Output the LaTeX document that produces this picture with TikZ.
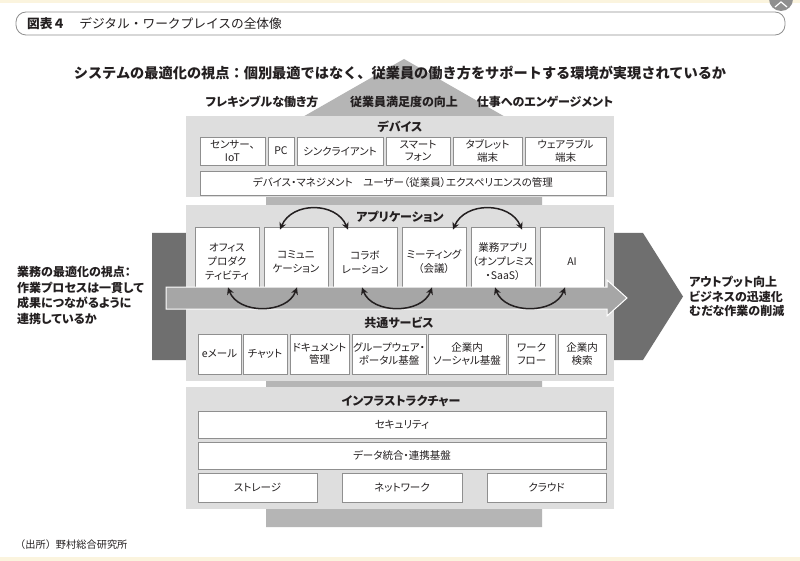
\documentclass[tikz,border=0pt]{standalone}
\usepackage{fontspec}
\setmainfont{Noto Sans CJK JP}[RawFeature=+palt]
\newfontfamily\fulljp{Noto Sans CJK JP}
\usetikzlibrary{arrows.meta}
\definecolor{ink}{HTML}{231F20}
\definecolor{panelgray}{HTML}{DEDEDE}
\definecolor{shaftgray}{HTML}{B5B5B5}
\definecolor{darkarrow}{HTML}{6F6F6F}
\definecolor{flowgray}{HTML}{A6A6A6}
\definecolor{rimgray}{HTML}{8F8F8F}
\definecolor{cream}{HTML}{FBF4DE}
\tikzset{
  cell/.style={draw=rimgray, fill=white, line width=0.9pt, inner sep=0pt,
    align=center, text=ink, font=\fontsize{10.5}{12.5}\selectfont},
  layer/.style={text=ink, font=\fontsize{12}{14}\selectfont\bfseries},
  lead/.style={text=ink, align=left, anchor=west, inner sep=0pt,
    font=\fontsize{12}{15.5}\selectfont\bfseries},
  link/.style={{Stealth[length=7pt,width=7pt]}-{Stealth[length=7pt,width=7pt]},
    line width=1.5pt, draw=ink}
}

\begin{document}
\begin{tikzpicture}[x=1pt,y=-1pt]
\useasboundingbox (0,0) rectangle (800,561);
\fill[white] (0,0) rectangle (800,561);
\fill[cream] (0,0) rectangle (800,3);
\fill[cream] (0,557) rectangle (800,561);
\fill[rimgray] (781,-1) circle (12);
\draw[white, line width=1.2pt] (775,7) -- (781,2) -- (787,7);

% caption
\draw[rimgray, line width=0.8pt, rounded corners=10pt] (16,12) rectangle (785,35);
\node[anchor=west, inner sep=0pt, text=ink, font=\fulljp\fontsize{12.7}{15}\selectfont] (caption) at (27,24)
  {{\bfseries 図表４}\hspace{14pt}デジタル・ワークプレイスの全体像};

% big arrows
\fill[shaftgray] (266,138) -- (404,59) -- (542,138) -- (542,527) -- (266,527) -- cycle;
\fill[darkarrow] (152,233) -- (643,233) -- (683,296.5) -- (643,360) -- (152,360) -- cycle;

\node[text=ink, font=\fulljp\fontsize{14.2}{17}\selectfont\bfseries] (heading) at (400,73)
  {システムの最適化の視点：個別最適ではなく、従業員の働き方をサポートする環境が実現されているか};
\node[layer] (flex) at (262,102) {フレキシブルな働き方};
\node[layer] (satis) at (404,102) {従業員満足度の向上};
\node[layer] (engage) at (545,102) {仕事へのエンゲージメント};

% panels
\fill[panelgray] (186,116) rectangle (614,197);
\fill[panelgray] (186,205) rectangle (614,381);
\fill[panelgray] (186,387) rectangle (614,509);

% devices
\node[layer] (devlabel) at (400,127) {デバイス};
\node[cell, minimum width=65, minimum height=28] (sensor) at (232.5,151) {センサー、\\IoT};
\node[cell, minimum width=26, minimum height=28] (pc) at (281,151) {PC};
\node[cell, minimum width=86, minimum height=28] (thin) at (340,151) {シンクライアント};
\node[cell, minimum width=64, minimum height=28] (phone) at (418,151) {スマート\\フォン};
\node[cell, minimum width=69, minimum height=28] (tablet) at (487.5,151) {タブレット\\端末};
\node[cell, minimum width=81, minimum height=28] (wear) at (565.5,151) {ウェアラブル\\端末};
\node[cell, minimum width=406, minimum height=24] (devmgmt) at (403,183)
  {デバイス・マネジメント　ユーザー（従業員）エクスペリエンスの管理};

% applications
\node[layer] (applabel) at (400,217) {アプリケーション};
\node[cell, minimum width=64, minimum height=70, font=\fontsize{10.5}{14}\selectfont] (office) at (227,262) {オフィス\\プロダク\\ティビティ};
\node[cell, minimum width=64, minimum height=70, font=\fontsize{10.5}{14}\selectfont] (comm) at (296,262) {コミュニ\\ケーション};
\node[cell, minimum width=64, minimum height=70, font=\fontsize{10.5}{14}\selectfont] (collab) at (365,262) {コラボ\\レーション};
\node[cell, minimum width=64, minimum height=70, font=\fontsize{10.5}{14}\selectfont] (meet) at (434,262) {ミーティング\\（会議）};
\node[cell, minimum width=64, minimum height=70, font=\fontsize{10.5}{14}\selectfont] (bizapp) at (503,262) {業務アプリ\\（オンプレミス\\・SaaS）};
\node[cell, minimum width=64, minimum height=70, font=\fontsize{10.5}{14}\selectfont] (ai) at (572,262) {AI};

% flow arrow
\fill[flowgray, draw=white, line width=1pt] (166,287) -- (607,287) -- (607,280) -- (627,298)
  -- (607,316) -- (607,309) -- (166,309) -- cycle;

\draw[link] ([xshift=-16,yshift=-3]comm.north) .. controls +(12,-28) and +(-12,-28) .. ([xshift=-17,yshift=-3]collab.north);
\draw[link] ([xshift=19,yshift=-3]meet.north) .. controls +(12,-28) and +(-12,-28) .. ([xshift=19,yshift=-3]bizapp.north);
\draw[link] ([xshift=1,yshift=10]office.south) .. controls +(10,27) and +(-10,27) .. ([xshift=1,yshift=10]comm.south);
\draw[link] ([xshift=-3,yshift=10]collab.south) .. controls +(10,27) and +(-10,27) .. ([xshift=-2,yshift=10]meet.south);
\draw[link] ([xshift=-8,yshift=10]bizapp.south) .. controls +(10,27) and +(-10,27) .. ([xshift=-7,yshift=10]ai.south);

% common services
\node[layer] (svclabel) at (399,323) {共通サービス};
\node[cell, minimum width=43, minimum height=40] (mail) at (219.5,354) {eメール};
\node[cell, minimum width=44, minimum height=40] (chat) at (265,354) {チャット};
\node[cell, minimum width=59, minimum height=40] (doc) at (319.5,354) {ドキュメント\\管理};
\node[cell, minimum width=74, minimum height=40] (group) at (389,354) {グループウェア・\\ポータル基盤};
\node[cell, minimum width=78, minimum height=40] (social) at (467,354) {企業内\\ソーシャル基盤};
\node[cell, minimum width=47, minimum height=40] (flow) at (531.5,354) {ワーク\\フロー};
\node[cell, minimum width=48, minimum height=40] (search) at (582,354) {企業内\\検索};

% infrastructure
\node[layer] (inflabel) at (401,401) {インフラストラクチャー};
\node[cell, minimum width=408, minimum height=27] (security) at (402,424.5) {セキュリティ};
\node[cell, minimum width=408, minimum height=27] (dataint) at (402,455.5) {データ統合・連携基盤};
\node[cell, minimum width=119, minimum height=29] (storage) at (257.5,487.5) {ストレージ};
\node[cell, minimum width=120, minimum height=29] (network) at (402,487.5) {ネットワーク};
\node[cell, minimum width=119, minimum height=29] (cloud) at (546.5,487.5) {クラウド};

% side texts
\node[lead] (bizview) at (17,295.5) {業務の最適化の視点：\\作業プロセスは一貫して\\成果につながるように\\連携しているか};
\node[lead, font=\fontsize{12}{14.5}\selectfont\bfseries] (outcome) at (689,296.5) {アウトプット向上\\ビジネスの迅速化\\むだな作業の削減};

\node[anchor=west, inner sep=0pt, text=ink, font=\fulljp\fontsize{10.2}{12}\selectfont] (source) at (15,545) {（出所）野村総合研究所};
\end{tikzpicture}
\end{document}
